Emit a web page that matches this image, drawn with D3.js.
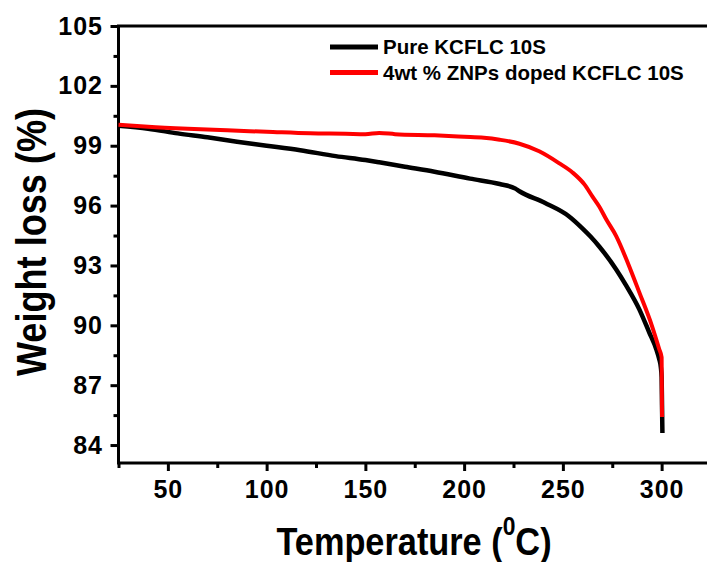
<!DOCTYPE html>
<html>
<head>
<meta charset="utf-8">
<script src="https://cdn.jsdelivr.net/npm/d3@7"></script>
<style>
  body { margin: 0; background: #fff; }
  text { font-family: "Liberation Sans", Arial, sans-serif; font-weight: bold; }
</style>
</head>
<body>
<svg id="chart" width="707" height="562"></svg>
<script>
// TGA curves
const pureTemp = [25, 40, 55, 70, 85, 100, 117, 135, 150, 157, 170, 185, 203, 218, 226, 228, 241, 253, 260, 264, 268.4, 277, 282, 288.7, 293.7, 297.3, 298.8, 299.6, 300, 300.2, 300.4];
const pureLoss = [100.0, 99.85, 99.62, 99.42, 99.2, 99.0, 98.77, 98.48, 98.28, 98.17, 97.95, 97.7, 97.35, 97.08, 96.85, 96.72, 96.13, 95.47, 94.85, 94.45, 93.95, 92.8, 92.0, 90.8, 89.65, 88.8, 88.3, 87.9, 87.4, 86.0, 84.6];

const dopedTemp = [25, 40, 60, 80, 100, 122, 140, 150, 157, 165, 185, 200, 210, 218, 228, 238, 248, 255, 261, 265, 268.4, 272, 277, 283, 288.7, 295, 298.8, 300, 300.2];
const dopedLoss = [100.05, 99.95, 99.85, 99.77, 99.7, 99.62, 99.6, 99.58, 99.64, 99.58, 99.52, 99.45, 99.4, 99.3, 99.1, 98.72, 98.13, 97.65, 97.05, 96.45, 95.95, 95.3, 94.47, 93.1, 91.65, 90.0, 88.8, 88.4, 85.4];

const seriesNames = ["Pure KCFLC 10S", "4wt % ZNPs doped KCFLC 10S"];
const seriesColors = ["#000000", "#ff0000"];

const xTicks = [50, 100, 150, 200, 250, 300];
const xMinor = [25, 75, 125, 175, 225, 275];
const yTicks = [84, 87, 90, 93, 96, 99, 102, 105];
const yMinor = [85.5, 88.5, 91.5, 94.5, 97.5, 100.5, 103.5];

const svg = d3.select("#chart");

const plotLeft = 118.5, plotTop = 26, plotBottom = 463;

const x = d3.scaleLinear().domain([25, 325]).range([plotLeft, 711]);
const y = d3.scaleLinear().domain([83.1, 105]).range([plotBottom, plotTop]);

// Minor ticks first, so the frame sits over them
svg.append("g")
    .attr("transform", `translate(${plotLeft},0)`)
    .call(d3.axisLeft(y).tickValues(yMinor).tickSize(5).tickFormat(""))
    .call(g => g.select(".domain").remove())
    .selectAll("line").attr("stroke-width", 3);

svg.append("g")
    .attr("transform", `translate(0,${plotBottom})`)
    .call(d3.axisBottom(x).tickValues(xMinor).tickSize(5).tickFormat(""))
    .call(g => g.select(".domain").remove())
    .selectAll("line").attr("stroke-width", 3);

// Major ticks and labels
const yAxis = svg.append("g")
    .attr("transform", `translate(${plotLeft},0)`)
    .call(d3.axisLeft(y).tickValues(yTicks).tickSize(8).tickPadding(7.5).tickFormat(d3.format("d")));
yAxis.select(".domain").remove();
yAxis.selectAll("line").attr("stroke-width", 3);
yAxis.selectAll("text")
    .attr("font-size", 25)
    .attr("font-family", "Liberation Sans, Arial, sans-serif")
    .attr("font-weight", "bold")
    .attr("letter-spacing", 1)
    .attr("fill", "#000");

const xAxis = svg.append("g")
    .attr("transform", `translate(0,${plotBottom})`)
    .call(d3.axisBottom(x).tickValues(xTicks).tickSize(8).tickPadding(9.5).tickFormat(d3.format("d")));
xAxis.select(".domain").remove();
xAxis.selectAll("line").attr("stroke-width", 3);
xAxis.selectAll("text")
    .attr("font-size", 25)
    .attr("font-family", "Liberation Sans, Arial, sans-serif")
    .attr("font-weight", "bold")
    .attr("letter-spacing", 1)
    .attr("fill", "#000");

// Frame (right edge falls off the canvas)
svg.append("rect")
    .attr("x", plotLeft)
    .attr("y", plotTop)
    .attr("width", x(325) - plotLeft)
    .attr("height", plotBottom - plotTop)
    .attr("fill", "none")
    .attr("stroke", "#000")
    .attr("stroke-width", 3);

// Curves
const line = d3.line()
    .curve(d3.curveMonotoneX)
    .x(d => x(d[0]))
    .y(d => y(d[1]));

const pureData = pureTemp.map((t, i) => [t, pureLoss[i]]);
const dopedData = dopedTemp.map((t, i) => [t, dopedLoss[i]]);

svg.append("path")
    .datum(pureData)
    .attr("d", line)
    .attr("fill", "none")
    .attr("stroke", seriesColors[0])
    .attr("stroke-width", 4.5)
    .attr("stroke-linejoin", "round");

svg.append("path")
    .datum(dopedData)
    .attr("d", line)
    .attr("fill", "none")
    .attr("stroke", seriesColors[1])
    .attr("stroke-width", 4)
    .attr("stroke-linejoin", "round");

// Legend
const legend = svg.append("g");
seriesNames.forEach((name, i) => {
    const ly = 47 + i * 25.5;
    legend.append("line")
        .attr("x1", 330).attr("x2", 378)
        .attr("y1", ly).attr("y2", ly)
        .attr("stroke", seriesColors[i])
        .attr("stroke-width", 5);
    legend.append("text")
        .attr("x", 383)
        .attr("y", ly + 7)
        .attr("font-size", 20.5)
        .attr("fill", "#000")
        .text(name);
});

// Axis titles
svg.append("g")
    .attr("transform", "translate(46,242) rotate(-90) scale(0.86,1)")
    .append("text")
    .attr("text-anchor", "middle")
    .attr("font-size", 42)
    .attr("fill", "#000")
    .text("Weight loss (%)");

const xt = svg.append("g")
    .attr("transform", "translate(414,555) scale(0.88,1)")
    .append("text")
    .attr("text-anchor", "middle")
    .attr("font-size", 39)
    .attr("fill", "#000");
xt.append("tspan").text("Temperature (");
xt.append("tspan").attr("font-size", 26).attr("dy", -20).text("0");
xt.append("tspan").attr("dy", 20).text("C)");
</script>
</body>
</html>
